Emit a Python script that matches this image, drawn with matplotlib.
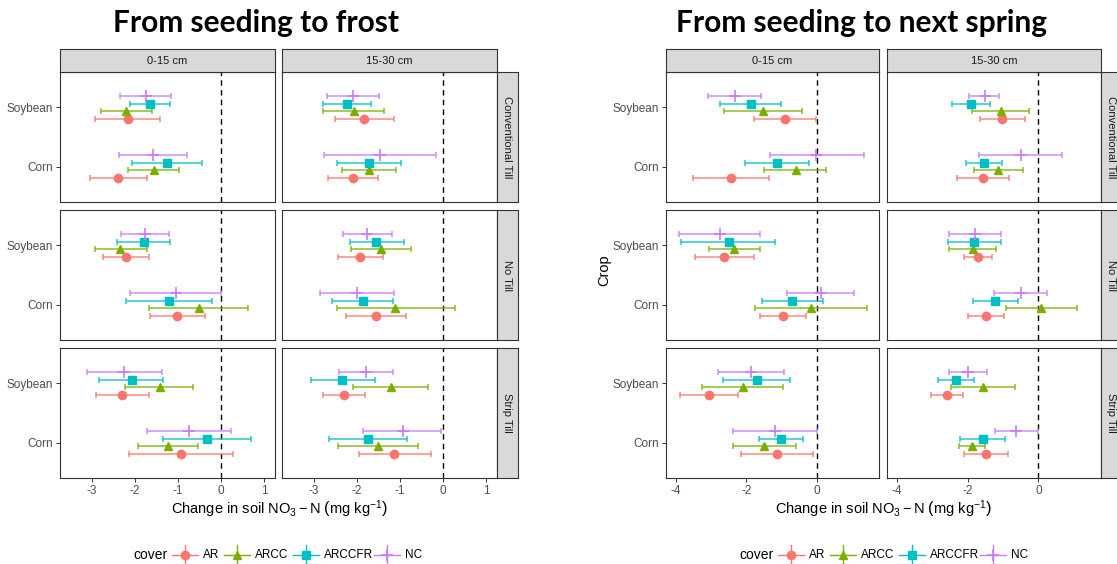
import matplotlib
matplotlib.use("Agg")
import matplotlib.pyplot as plt
import numpy as np

plt.rcParams['font.family'] = ['Liberation Sans', 'DejaVu Sans']
plt.rcParams['mathtext.fontset'] = 'custom'
plt.rcParams['mathtext.rm'] = 'Liberation Sans'
plt.rcParams['mathtext.it'] = 'Liberation Sans:italic'
plt.rcParams['mathtext.bf'] = 'Liberation Sans:bold'

W, H = 1117, 564

# facets / categories
tillages = ["Conventional Till", "No Till", "Strip Till"]
depths = ["0-15 cm", "15-30 cm"]
crops = ["Soybean", "Corn"]
covers = ["AR", "ARCC", "ARCCFR", "NC"]
cover_colors = ["#F8766D", "#7CAE00", "#00BFC4", "#C77CFF"]
cover_markers = ["o", "^", "s", "+"]

# values: [tillage][depth][crop: Soybean, Corn][cover: AR, ARCC, ARCCFR, NC]
frost_mean = [
    [[[-2.17, -2.21, -1.65, -1.75], [-2.39, -1.56, -1.26, -1.58]],
     [[-1.83, -2.08, -2.22, -2.10], [-2.10, -1.72, -1.72, -1.46]]],
    [[[-2.21, -2.34, -1.80, -1.76], [-1.02, -0.52, -1.21, -1.05]],
     [[-1.93, -1.45, -1.55, -1.76], [-1.56, -1.11, -1.87, -2.00]]],
    [[[-2.30, -1.42, -2.08, -2.25], [-0.93, -1.24, -0.32, -0.74]],
     [[-2.31, -1.22, -2.34, -1.78], [-1.13, -1.51, -1.75, -0.94]]],
]
frost_lo = [
    [[[-2.92, -2.80, -2.12, -2.35], [-3.05, -2.17, -2.06, -2.37]],
     [[-2.51, -2.80, -2.78, -2.70], [-2.68, -2.35, -2.47, -2.76]]],
    [[[-2.74, -2.93, -2.41, -2.33], [-1.66, -1.68, -2.21, -2.12]],
     [[-2.44, -2.14, -2.17, -2.33], [-2.26, -2.47, -2.58, -2.85]]],
    [[[-2.91, -2.22, -2.83, -3.12], [-2.13, -1.93, -1.35, -1.71]],
     [[-2.80, -2.10, -3.07, -2.41], [-1.96, -2.43, -2.65, -1.87]]],
]
frost_hi = [
    [[[-1.42, -1.60, -1.19, -1.17], [-1.73, -0.97, -0.45, -0.79]],
     [[-1.15, -1.38, -1.67, -1.48], [-1.51, -1.09, -0.97, -0.16]]],
    [[[-1.68, -1.73, -1.18, -1.21], [-0.38, 0.62, -0.22, 0.00]],
     [[-1.40, -0.74, -0.92, -1.19], [-0.86, 0.28, -1.16, -1.15]]],
    [[[-1.67, -0.65, -1.34, -1.38], [0.28, -0.54, 0.69, 0.22]],
     [[-1.82, -0.36, -1.59, -1.17], [-0.28, -0.58, -0.83, -0.06]]],
]

spring_mean = [
    [[[-0.90, -1.52, -1.87, -2.33], [-2.43, -0.60, -1.12, -0.02]],
     [[-1.02, -1.07, -1.91, -1.52], [-1.57, -1.13, -1.55, -0.50]]],
    [[[-2.63, -2.35, -2.50, -2.76], [-0.95, -0.16, -0.70, 0.11]],
     [[-1.71, -1.86, -1.83, -1.79], [-1.48, 0.08, -1.22, -0.50]]],
    [[[-3.06, -2.10, -1.70, -1.86], [-1.12, -1.49, -1.01, -1.19]],
     [[-2.59, -1.56, -2.33, -2.00], [-1.48, -1.88, -1.58, -0.62]]],
]
spring_lo = [
    [[[-1.77, -2.63, -2.74, -3.08], [-3.50, -1.49, -2.04, -1.33]],
     [[-1.65, -1.87, -2.44, -1.95], [-2.29, -1.82, -2.06, -1.68]]],
    [[[-3.47, -3.07, -3.84, -3.92], [-1.60, -1.74, -1.56, -0.83]],
     [[-2.10, -2.52, -2.56, -2.52], [-1.98, -0.92, -1.85, -1.25]]],
    [[[-3.87, -3.25, -2.65, -2.81], [-2.14, -2.38, -1.63, -2.38]],
     [[-3.03, -2.47, -2.84, -2.54], [-2.09, -2.24, -2.21, -1.23]]],
]
spring_hi = [
    [[[-0.03, -0.41, -1.00, -1.57], [-1.35, 0.27, -0.22, 1.33]],
     [[-0.38, -0.27, -1.38, -1.10], [-0.84, -0.44, -1.02, 0.66]]],
    [[[-1.78, -1.62, -1.18, -1.60], [-0.29, 1.42, 0.18, 1.07]],
     [[-1.30, -1.20, -1.06, -1.05], [-0.97, 1.08, -0.57, 0.23]]],
    [[[-2.24, -0.95, -0.76, -0.92], [-0.11, -0.60, -0.40, 0.00]],
     [[-2.14, -0.66, -1.81, -1.45], [-0.86, -1.51, -0.93, -0.01]]],
]

frost_ticks = [-3, -2, -1, 0, 1]
spring_ticks = [-4, -2, 0]

GREY20 = "#333333"
GREY30 = "#4D4D4D"
STRIP_FILL = "#D9D9D9"

fig = plt.figure(figsize=(W / 100, H / 100), dpi=100)


def px(x0, y0, w, h):
    return [x0 / W, 1 - (y0 + h) / H, w / W, h / H]


def strip_ax(rect, text, rot):
    a = fig.add_axes(px(*rect))
    a.set_facecolor(STRIP_FILL)
    a.set_xticks([]); a.set_yticks([])
    for s in a.spines.values():
        s.set_color(GREY20); s.set_linewidth(0.8)
    a.text(0.5, 0.5, text, transform=a.transAxes, ha="center", va="center",
           rotation=rot, fontsize=8, color="#1A1A1A")
    return a


def marker_kw(mk):
    if mk == "+":
        return dict(ms=8.5, mew=1.2)
    if mk == "s":
        return dict(ms=5.4)
    if mk == "^":
        return dict(ms=6.2)
    return dict(ms=6.0)


def draw_legend(x0):
    # legend row drawn in a pixel-unit axes strip
    lax = fig.add_axes(px(x0, 540, 310, 30))
    lax.set_xlim(0, 310); lax.set_ylim(30, 0)
    lax.axis("off")
    lax.text(17, 15, "cover", ha="center", va="center", fontsize=10)
    key_x = [52, 104, 173, 254]
    for kx, c, mk, lab in zip(key_x, cover_colors, cover_markers, covers):
        lax.plot([kx - 13, kx + 13], [15, 15], color=c, lw=1.0)
        lax.plot([kx, kx], [5, 25], color=c, lw=1.0)
        lax.plot(kx, 15, marker=mk, color=c, ls="none", **marker_kw(mk))
        lax.text(kx + 18, 15, lab, ha="left", va="center", fontsize=8.5)


def draw_chart(col_x, col_w, strip_x, mean, lo, hi, xlim, ticks, title, title_x,
               xlabel_x, show_crop, legend_x0):
    row_y = [72, 210, 348]
    row_h = 130
    dodge = [-0.1875, -0.0625, 0.0625, 0.1875]
    crop_pos = [2, 1]   # Soybean above Corn
    for ti, till in enumerate(tillages):
        for di, dep in enumerate(depths):
            ax = fig.add_axes(px(col_x[di], row_y[ti], col_w[di], row_h))
            for ci in range(len(crops)):
                for ki in range(len(covers)):
                    m = mean[ti][di][ci][ki]
                    y = crop_pos[ci] + dodge[ki]
                    ax.errorbar(m, y, xerr=[[m - lo[ti][di][ci][ki]], [hi[ti][di][ci][ki] - m]],
                                fmt="none", ecolor=cover_colors[ki], elinewidth=1.1,
                                capsize=2.2, capthick=1.1, alpha=0.85, zorder=2)
                    ax.plot(m, y, marker=cover_markers[ki], color=cover_colors[ki],
                            mec=cover_colors[ki], zorder=3, **marker_kw(cover_markers[ki]))
            ax.axvline(0, color="black", ls=(0, (4, 3)), lw=1.0, zorder=1)
            ax.set_xlim(*xlim)
            ax.set_ylim(0.4, 2.6)
            ax.set_yticks([2, 1])
            if di == 0:
                ax.set_yticklabels(crops, fontsize=8.5, color=GREY30)
            else:
                ax.set_yticklabels([])
            ax.set_xticks(ticks)
            if ti == 2:
                ax.set_xticklabels([str(t) for t in ticks], fontsize=8.5, color=GREY30)
            else:
                ax.set_xticklabels([])
            ax.tick_params(length=3, width=0.7, color=GREY20, pad=2)
            if ti < 2:
                ax.tick_params(axis="x", length=0)
            if di == 1:
                ax.tick_params(axis="y", length=0)
            for s in ax.spines.values():
                s.set_color(GREY20); s.set_linewidth(0.8)
            if ti == 0:
                strip_ax((col_x[di], 49, col_w[di], 23), dep, 0)
            if di == 1:
                strip_ax((strip_x, row_y[ti], 21, row_h), till, -90)

    fig.text(title_x / W, 1 - 23 / H, title, ha="center", va="center",
             fontsize=21.5, fontweight="bold", family=["Lato", "DejaVu Sans"])
    fig.text(xlabel_x / W, 1 - 509 / H,
             r"Change in soil NO$_3-$N $\left(\mathrm{mg\ kg}^{-1}\right)$",
             ha="center", va="center", fontsize=10.5, color="black")
    if show_crop:
        fig.text(604 / W, 1 - 270 / H, "Crop", rotation=90, ha="center",
                 va="center", fontsize=10.5)
    draw_legend(legend_x0)


draw_chart([60, 282], [215, 215], 497, frost_mean, frost_lo, frost_hi,
           (-3.74, 1.25), frost_ticks, "From seeding to frost", 256,
           279, False, 133)
draw_chart([666, 887], [213, 214], 1101, spring_mean, spring_lo, spring_hi,
           (-4.28, 1.77), spring_ticks, "From seeding to next spring", 862,
           883, True, 739)

fig.savefig("out.png", dpi=100)
